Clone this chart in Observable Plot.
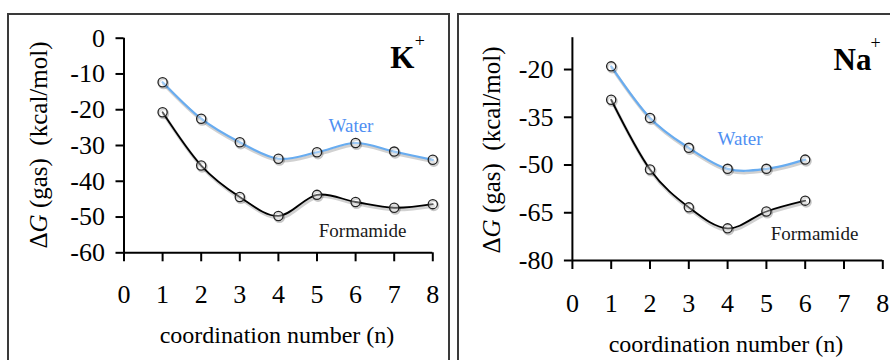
<!DOCTYPE html>
<html><head><meta charset="utf-8">
<script src="https://cdn.jsdelivr.net/npm/d3@7"></script>
<script src="https://cdn.jsdelivr.net/npm/@observablehq/plot@0.6"></script>
<style>
html,body{margin:0;padding:0;background:#fff;width:890px;height:360px;overflow:hidden;position:relative;font-family:'Liberation Serif',serif}
.box{position:absolute;border:2px solid #3a3a3a;box-sizing:border-box}
#p1,#p2{position:absolute;top:0}
svg text{font-family:'Liberation Serif',serif !important}
</style></head><body>
<div class="box" style="left:7px;top:13px;width:443px;height:400px"></div>
<div class="box" style="left:457px;top:13px;width:500px;height:400px"></div>
<div id="p1" style="left:0"></div>
<div id="p2" style="left:445px"></div>
<script>
// ---- data ----
const xTicks = [0, 1, 2, 3, 4, 5, 6, 7, 8];
const kN = [1, 2, 3, 4, 5, 6, 7, 8];
const kWater = [-12.3, -22.5, -29.1, -33.7, -31.9, -29.3, -31.7, -34.0];
const kFormamide = [-20.7, -35.6, -44.4, -49.7, -43.8, -45.8, -47.4, -46.4];
const kTicks = [0, -10, -20, -30, -40, -50, -60];
const naN = [1, 2, 3, 4, 5, 6];
const naWater = [-19.0, -35.2, -44.6, -51.2, -51.2, -48.3];
const naFormamide = [-29.5, -51.4, -63.3, -69.9, -64.6, -61.2];
const naTicks = [-20, -35, -50, -65, -80];
const xTitle = "coordination number (n)";

const FONT = "Liberation Serif";

function panel(o) {
  const water = o.n.map((n, i) => ({n, v: o.water[i]}));
  const form = o.n.map((n, i) => ({n, v: o.form[i]}));
  const pts = water.concat(form);
  const shadow = {x: "n", y: "v", curve: "cardinal", stroke: "#000", strokeOpacity: 0.18, strokeWidth: 3.2, dx: 1, dy: 2};
  const plot = Plot.plot({
    width: 445, height: 360,
    marginLeft: o.ml, marginRight: o.mr, marginTop: o.mt, marginBottom: o.mb,
    style: {fontFamily: FONT, color: "#000", background: "transparent", overflow: "visible"},
    x: {domain: [0, 8]},
    y: {domain: o.yDomain},
    marks: [
      Plot.ruleX([0], {stroke: "#000", strokeWidth: 2}),
      Plot.ruleY([o.yDomain[0]], {stroke: "#000", strokeWidth: 2}),
      Plot.axisY({ticks: o.yTicks, tickSize: 8, tickPadding: 11, fontSize: 26, fontFamily: FONT, tickFormat: d => String(d), label: null, strokeWidth: 2}),
      Plot.axisX({ticks: xTicks, tickSize: 9, tickPadding: o.xpad, fontSize: 26, fontFamily: FONT, tickFormat: d => String(d), label: null, strokeWidth: 2}),
      Plot.line(water, shadow),
      Plot.line(form, shadow),
      Plot.line(water, {x: "n", y: "v", curve: "cardinal", stroke: "#68acf0", strokeWidth: 2.2}),
      Plot.line(form, {x: "n", y: "v", curve: "cardinal", stroke: "#000", strokeWidth: 1.8}),
      Plot.dot(pts, {x: "n", y: "v", r: 4.6, stroke: "#000", strokeOpacity: 0.22, strokeWidth: 2, dx: 1, dy: 1.5}),
      Plot.dot(pts, {x: "n", y: "v", r: 4.6, stroke: "#222", strokeWidth: 1.3, fill: "#fff", fillOpacity: 0.35}),
      Plot.text([o.ion], {x: o.ionX, y: o.ionY, text: d => d, fontSize: 31, fontWeight: "bold", fontFamily: FONT, textAnchor: "start", lineAnchor: "bottom"}),
      Plot.text(["+"], {x: o.plusX, y: o.plusY, text: d => d, fontSize: 18, fontFamily: FONT, textAnchor: "start", lineAnchor: "bottom"}),
      Plot.text(["Water"], {x: o.wX, y: o.wY, text: d => d, fontSize: 19, fontFamily: FONT, fill: "#4f8ff2", textAnchor: "middle", lineAnchor: "middle"}),
      Plot.text(["Formamide"], {x: o.fX, y: o.fY, text: d => d, fontSize: 19, fontFamily: FONT, fill: "#1a1a1a", textAnchor: "middle", lineAnchor: "middle"})
    ]
  });
  const svg = d3.select(plot);
  const t = svg.append("text")
    .attr("transform", `translate(${o.ytx},${o.yty}) rotate(-90)`)
    .attr("text-anchor", "middle").attr("font-size", 25).attr("fill", "#000")
    .attr("font-family", FONT)
    .style("white-space", "pre");
  t.append("tspan").text("\u0394");
  t.append("tspan").attr("font-style", "italic").text("G");
  t.append("tspan").text(" (gas)\u00a0\u00a0(kcal/mol)");
  svg.append("text")
    .attr("x", o.xtx).attr("y", o.xty)
    .attr("text-anchor", "middle").attr("font-size", 24).attr("fill", "#000")
    .attr("font-family", FONT)
    .text(xTitle);
  return plot;
}

document.getElementById("p1").appendChild(panel({
  n: kN, water: kWater, form: kFormamide, yDomain: [-60, 0], yTicks: kTicks,
  ml: 123.5, mr: 12.7, mt: 37.7, mb: 107.7, xpad: 23,
  ion: "K", ionX: 6.9, ionY: -8.2, plusX: 7.53, plusY: -2.5,
  wX: 5.88, wY: -24.4, fX: 6.18, fY: -54.0,
  ytx: 46.5, yty: 145, xtx: 277, xty: 343
}));
document.getElementById("p2").appendChild(panel({
  n: naN, water: naWater, form: naFormamide, yDomain: [-80, -10], yTicks: naTicks,
  ml: 126.9, mr: 7.7, mt: 37.2, mb: 100, xpad: 24,
  ion: "Na", ionX: 6.73, ionY: -20, plusX: 7.68, plusY: -13.4,
  wX: 4.32, wY: -41.7, fX: 6.24, fY: -71.8,
  ytx: 54.5, yty: 150, xtx: 281, xty: 352
}));
</script>
</body></html>
